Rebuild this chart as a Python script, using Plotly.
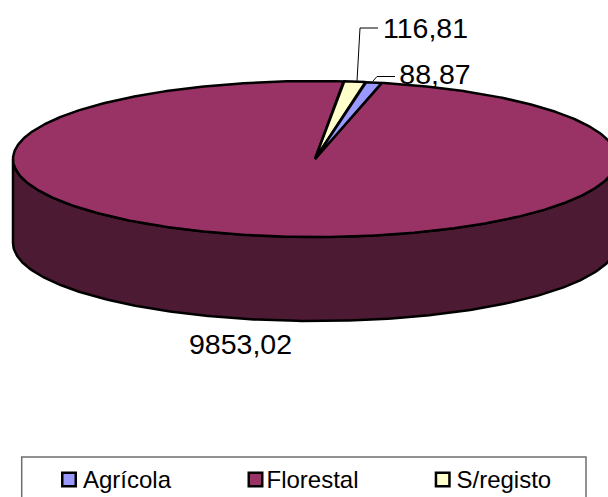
import numpy as np
import plotly.graph_objects as go

categories = ["Agrícola", "Florestal", "S/registo"]
values = [88.87, 9853.02, 116.81]
value_labels = ["88,87", "9853,02", "116,81"]

top_colors = ["#9999FF", "#993366", "#FFFFCC"]
wall_colors = ["#4D4D80", "#4D1A33", "#808066"]
FIRST_ANGLE = 9.6
CX, CY, RX, RY, DEPTH = 315, 159, 302, 78, 84
W, H = 608, 497
FONT = "Liberation Sans, Arial, sans-serif"

label_pos = [(435, 77), (240.5, 347), (425.5, 31)]
leaders = [[(373, 81), (377, 76.5), (395, 76.5)], None, [(357, 81), (360, 28), (378, 28)]]
legend_marker_x = [69, 255.5, 442.7]
legend_text_x = [83, 266.5, 456.5]
legend_marker_y = 479.5
legend_text_y = 481.5


def rim(a0, a1, dy=0, n=240):
    t = np.radians(np.linspace(a0, a1, n))
    return CX + RX * np.sin(t), CY + dy - RY * np.cos(t)


fig = go.Figure()

# Labels first, so the pie sits on top of them as in the reference
fig.add_trace(go.Scatter(
    x=[p[0] for p in label_pos], y=[p[1] for p in label_pos], text=value_labels,
    mode="text", textposition="middle center", showlegend=False, hoverinfo="skip",
    textfont=dict(family=FONT, size=28.5, color="black"),
))
for pts in leaders:
    if pts:
        fig.add_trace(go.Scatter(x=[p[0] for p in pts], y=[p[1] for p in pts], mode="lines",
                                 line=dict(color="black", width=1), showlegend=False, hoverinfo="skip"))

total = sum(values)
spans = [v / total * 360 for v in values]
starts = FIRST_ANGLE + np.concatenate([[0], np.cumsum(spans)[:-1]])

# Walls: the part of each slice lying on the front half of the rim
for s, sp, col in zip(starts, spans, wall_colors):
    a0, a1 = max(s, 90), min(s + sp, 270)
    if a1 <= a0:
        continue
    xt, yt = rim(a0, a1)
    xb, yb = rim(a0, a1, DEPTH)
    fig.add_trace(go.Scatter(
        x=np.r_[xt, xb[::-1], xt[0]], y=np.r_[yt, yb[::-1], yt[0]],
        mode="lines", fill="toself", fillcolor=col,
        line=dict(color="black", width=2.5), showlegend=False, hoverinfo="skip"))

# Top faces, largest first
for i in sorted(range(len(values)), key=lambda k: -values[k]):
    xt, yt = rim(starts[i], starts[i] + spans[i], n=720)
    fig.add_trace(go.Scatter(
        x=np.r_[CX, xt, CX], y=np.r_[CY, yt, CY],
        mode="lines", fill="toself", fillcolor=top_colors[i], name=categories[i],
        line=dict(color="black", width=2.5), showlegend=False,
        hovertemplate=f"{categories[i]}: {value_labels[i]}<extra></extra>"))

# Legend
fig.add_shape(type="rect", x0=21.7, x1=586, y0=457, y1=510, xref="x", yref="y",
              line=dict(color="#6e6e6e", width=1.5), fillcolor="white", layer="between")
for c, col, mx, tx in zip(categories, top_colors, legend_marker_x, legend_text_x):
    fig.add_trace(go.Scatter(
        x=[mx], y=[legend_marker_y], mode="markers",
        marker=dict(symbol="square", size=13.5, color=col, line=dict(color="black", width=2.5)),
        showlegend=False, hoverinfo="skip"))
    fig.add_trace(go.Scatter(
        x=[tx], y=[legend_text_y], mode="text", text=[c], textposition="middle right",
        textfont=dict(family=FONT, size=24, color="black"),
        showlegend=False, hoverinfo="skip"))

fig.update_layout(
    width=W, height=H, margin=dict(l=0, r=0, t=0, b=0),
    paper_bgcolor="white", plot_bgcolor="white", showlegend=False,
    xaxis=dict(range=[0, W], visible=False, fixedrange=True),
    yaxis=dict(range=[H, 0], visible=False, fixedrange=True),
)
fig.write_html("out.html", config={"displayModeBar": False},
               post_script="document.body.style.margin='0';")
